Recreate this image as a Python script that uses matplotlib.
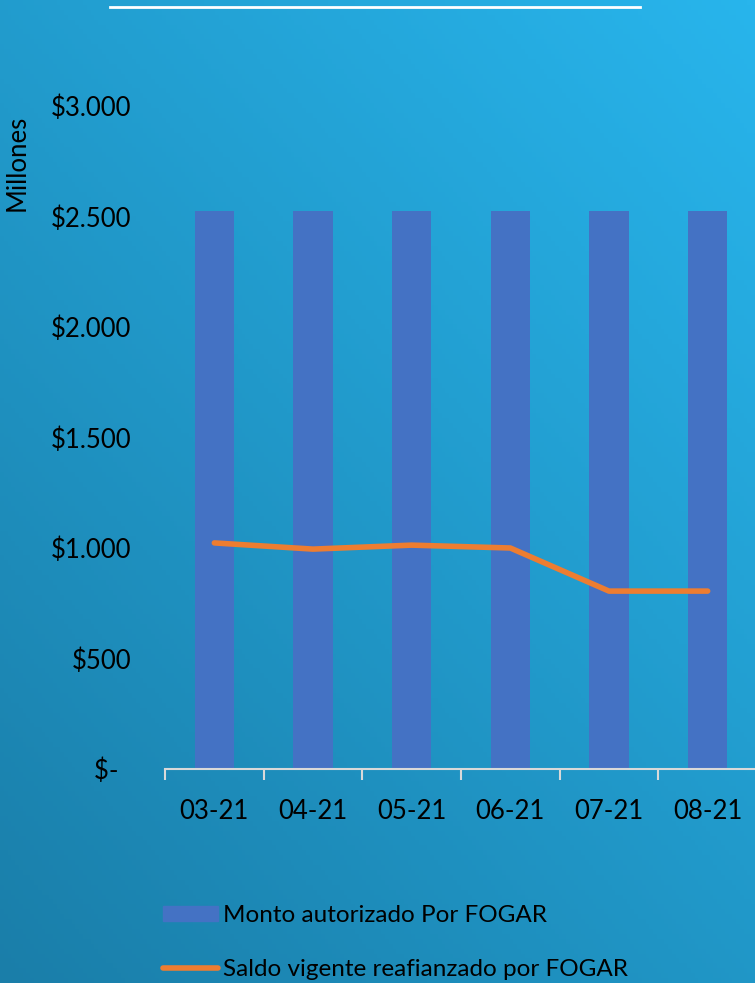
import numpy as np
import matplotlib
matplotlib.use("Agg")
import matplotlib.pyplot as plt
from matplotlib.colors import LinearSegmentedColormap
from matplotlib.lines import Line2D
from matplotlib.patches import Patch

meses = ["03-21", "04-21", "05-21", "06-21", "07-21", "08-21"]
monto_autorizado = [2525, 2525, 2525, 2525, 2525, 2525]
saldo_vigente = [1023, 995, 1013, 1000, 805, 805]
y_ticks = [0, 500, 1000, 1500, 2000, 2500, 3000]
y_labels = ["$-  ", "$500", "$1.000", "$1.500", "$2.000", "$2.500", "$3.000"]

plt.rcParams['font.family'] = ['Lato', 'DejaVu Sans']

fig = plt.figure(figsize=(7.55, 9.83), dpi=100)

# fondo degradado
bg = fig.add_axes([0, 0, 1, 1], zorder=-10)
gx, gy = np.meshgrid(np.linspace(0, 1, 200), np.linspace(0, 1, 200))
grad = (gx * 0.45 + gy * 0.55)
cmap = LinearSegmentedColormap.from_list("fondo", ["#1a7ea9", "#28b5ec"])
bg.imshow(grad, cmap=cmap, origin="lower", extent=[0, 1, 0, 1], aspect="auto")
bg.plot([110 / 755, 640 / 755], [1 - 7 / 983, 1 - 7 / 983], color="white", lw=2)
bg.set_xlim(0, 1)
bg.set_ylim(0, 1)
bg.axis("off")

ax = fig.add_axes([165 / 755, 1 - 769 / 983, 592 / 755, (769 - 106) / 983])
ax.patch.set_alpha(0)
x = np.arange(len(meses))
ax.bar(x, monto_autorizado, width=0.4, color="#4472c4", zorder=2)
ax.plot(x, saldo_vigente, color="#ed7d31", lw=4, solid_capstyle="round", zorder=3)

ax.set_xlim(-0.5, 5.5)
ax.set_ylim(0, 3000)
ax.set_yticks(y_ticks)
ax.set_yticklabels(y_labels)
ax.set_xticks(x)
ax.set_xticklabels(meses)
ax.set_xticks(np.arange(-0.5, 6, 1), minor=True)
ax.tick_params(axis="x", which="major", length=0, labelsize=18.5, pad=21.5)
ax.tick_params(axis="x", which="minor", length=8, width=1.5, color="#d9d9d9")
ax.tick_params(axis="y", length=0, labelsize=18.5, pad=24)
for s in ["top", "right", "left"]:
    ax.spines[s].set_visible(False)
ax.spines["bottom"].set_color("#d9d9d9")
ax.spines["bottom"].set_linewidth(1.5)
fig.text(17 / 755, 1 - 163 / 983, "Millones", rotation=90, fontsize=18.5,
         ha="center", va="center")

handles = [Patch(color="#4472c4"),
           Line2D([0], [0], color="#ed7d31", lw=4, solid_capstyle="round")]
fig.legend(handles, ["Monto autorizado Por FOGAR", "Saldo vigente reafianzado por FOGAR"],
           loc="upper left", bbox_to_anchor=(163 / 755, 1 - 905 / 983), frameon=False,
           fontsize=17.5, handlelength=2.25, handleheight=0.55, handletextpad=0.2,
           labelspacing=1.37, borderpad=0, borderaxespad=0)

fig.savefig("out.png", dpi=100)
